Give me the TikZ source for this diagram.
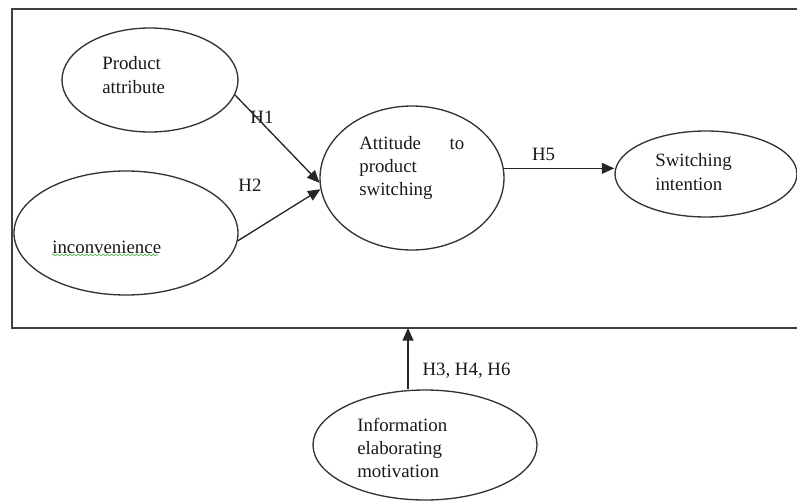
\documentclass[tikz,border=0pt]{standalone}
\usepackage{fontspec}
\setmainfont{Liberation Serif}
\usetikzlibrary{shapes.geometric,arrows.meta,decorations.pathmorphing}

\begin{document}
\begin{tikzpicture}[x=0.6pt,y=-0.6pt,
  oval/.style={ellipse, draw=black!80, line width=0.8pt, inner sep=0pt},
  txt/.style={anchor=west, align=left, inner sep=0pt, font=\fontsize{11.3}{14}\selectfont, text=black!90},
  hyp/.style={font=\fontsize{11.3}{14}\selectfont, text=black!90},
  link/.style={draw=black!85, line width=0.8pt, -{Triangle[length=7.5pt,width=6.5pt]}}]
\useasboundingbox (0,0) rectangle (797,501);
\draw[black!75, line width=0.9pt] (797,9) -- (12,9) -- (12,328) -- (797,328);
\node (pa) at (150,80) [oval, minimum width=105.6pt, minimum height=62.4pt] {};
\node (inc) at (126,233) [oval, minimum width=134.4pt, minimum height=74.4pt] {};
	\node (att) at (412,178) [oval, minimum width=110.4pt, minimum height=86.4pt] {};
	\node (sw) at (706,174) [oval, minimum width=109.2pt, minimum height=51.6pt] {};
		\node (info) at (425,445) [oval, minimum width=134.4pt, minimum height=66pt] {};
\node (pat) at (102,75) [txt] {Product\\attribute};
\node (inct) at (52,247) [txt] {inconvenience};
\node (attt) at (359,168) [txt] {\makebox[63pt][l]{Attitude\hfill to}\\product\\switching};
\node (swt) at (655,172) [txt] {Switching\\intention};
\node (infot) at (357,448) [txt] {Information\\elaborating\\motivation};
\draw[green!55!black!70, line width=0.4pt, decorate, decoration={snake, amplitude=0.5pt, segment length=2.5pt}] (52,255) -- (158,255);
\coordinate (frame) at (408,328);
\node (h1) at (262,117) [hyp] {H1};
\node (h2) at (250,185) [hyp] {H2};
\draw[link] (pa.-10) to (att.183);
\draw[link] (inc.-4) to (att.187);
\draw[link] (att.6) to node [hyp, above=1pt, pos=0.36] {H5} (sw.west |- att.6);
\draw[link] (info.north -| frame) to node [hyp, right=5pt, pos=0.3] {H3, H4, H6} (frame);
\end{tikzpicture}
\end{document}
